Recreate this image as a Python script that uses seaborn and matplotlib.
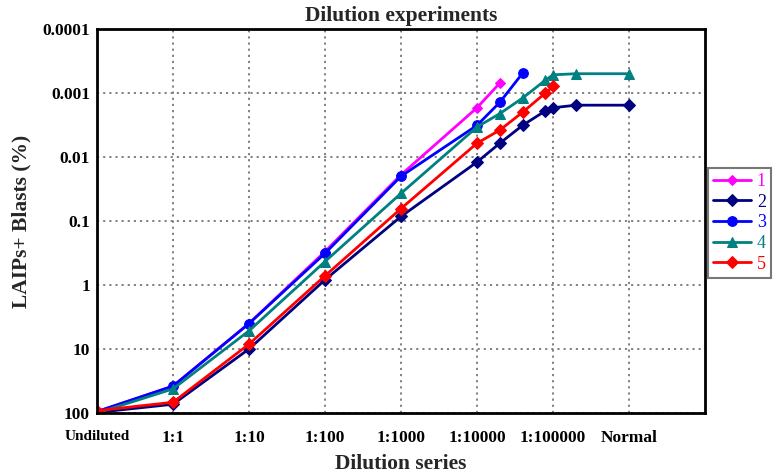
import matplotlib
matplotlib.use("Agg")
import matplotlib.pyplot as plt
import seaborn as sns
import pandas as pd
from matplotlib.ticker import FixedLocator, FixedFormatter, NullLocator

# ---- data ----
tick_labels = ["Undiluted", "1:1", "1:10", "1:100", "1:1000", "1:10000", "1:100000", "Normal"]
tick_pos = [0, 1, 2, 3, 4, 5, 6, 7]
# x positions of the measured dilution steps (log-spaced between ticks)
x_steps = [0, 1, 2, 3, 4, 5, 5.3, 5.6, 5.9, 6, 6.3, 7]

s1 = [95, 38, 4.0, 0.30, 0.019, 0.0017, 0.0007]
s2 = [98, 73, 10, 0.83, 0.085, 0.012, 0.0061, 0.0032, 0.0019, 0.0017, 0.00155, 0.00155]
s3 = [95, 38, 4.0, 0.32, 0.020, 0.0032, 0.0014, 0.00049]
s4 = [100, 42, 5.2, 0.43, 0.037, 0.0034, 0.0021, 0.0012, 0.00063, 0.00052, 0.0005, 0.0005]
s5 = [92, 68, 8.4, 0.72, 0.064, 0.0061, 0.0038, 0.0020, 0.0010, 0.00079]

series_names = ["1", "2", "3", "4", "5"]
series_vals = [s1, s2, s3, s4, s5]
colors = ["#FF00FF", "#000080", "#0000FF", "#008080", "#FF0000"]
markers = ["D", "D", "o", "^", "D"]
msizes = [5, 6, 7, 7, 6]

ytick_vals = [100, 10, 1, 0.1, 0.01, 0.001, 0.0001]
ytick_labels = ["100", "10", "1", "0.1", "0.01", "0.001", "0.0001"]

sns.set_theme(style="white")
plt.rcParams["font.family"] = ["Liberation Serif", "DejaVu Serif"]

fig = plt.figure(figsize=(7.77, 4.76), dpi=100)
ax = fig.add_axes([97 / 777, 1 - 413 / 476, (705 - 97) / 777, (413 - 29) / 476])

for name, vals, c, m, ms in zip(series_names, series_vals, colors, markers, msizes):
    df = pd.DataFrame({"x": x_steps[:len(vals)], "y": vals})
    sns.lineplot(data=df, x="x", y="y", ax=ax, color=c, marker=m, markersize=ms,
                 markeredgecolor=c, linewidth=2, label=name, sort=False)

ax.set_yscale("log")
ax.set_ylim(100, 0.0001)
ax.set_xlim(0, 8)
ax.yaxis.set_major_locator(FixedLocator(ytick_vals))
ax.yaxis.set_major_formatter(FixedFormatter(ytick_labels))
ax.yaxis.set_minor_locator(NullLocator())
ax.set_xticks(tick_pos)
ax.set_xticklabels(tick_labels)

ax.grid(True, which="major", linestyle=(0, (1.2, 2.2)), color="#777777", linewidth=1.3)
for sp in ax.spines.values():
    sp.set_visible(True)
    sp.set_color("black")
    sp.set_linewidth(2)

ax.tick_params(axis="both", direction="in", length=4, width=2, colors="black")
ax.tick_params(axis="x", pad=12, labelsize=12.5)
ax.tick_params(axis="y", pad=5, labelsize=12.5)
for lab in ax.get_xticklabels() + ax.get_yticklabels():
    lab.set_fontweight("bold")
ax.get_xticklabels()[0].set_fontsize(11)

ax.set_title("Dilution experiments", fontsize=15.5, fontweight="bold", pad=6)
ax.set_xlabel("Dilution series", fontsize=15.5, fontweight="bold", labelpad=6)
ax.set_ylabel("LAIPs+ Blasts (%)", fontsize=15.5, fontweight="bold", labelpad=8)

leg = ax.legend(loc="center left", bbox_to_anchor=(1.005, 0.495), frameon=True,
                fontsize=13, handlelength=2.1, handletextpad=0.3, borderpad=0.3,
                borderaxespad=0, labelspacing=0.2, fancybox=False, edgecolor="#555555")
leg.get_frame().set_linewidth(1.5)
for txt, c in zip(leg.get_texts(), colors):
    txt.set_color(c)

fig.savefig("out.png", dpi=100)
